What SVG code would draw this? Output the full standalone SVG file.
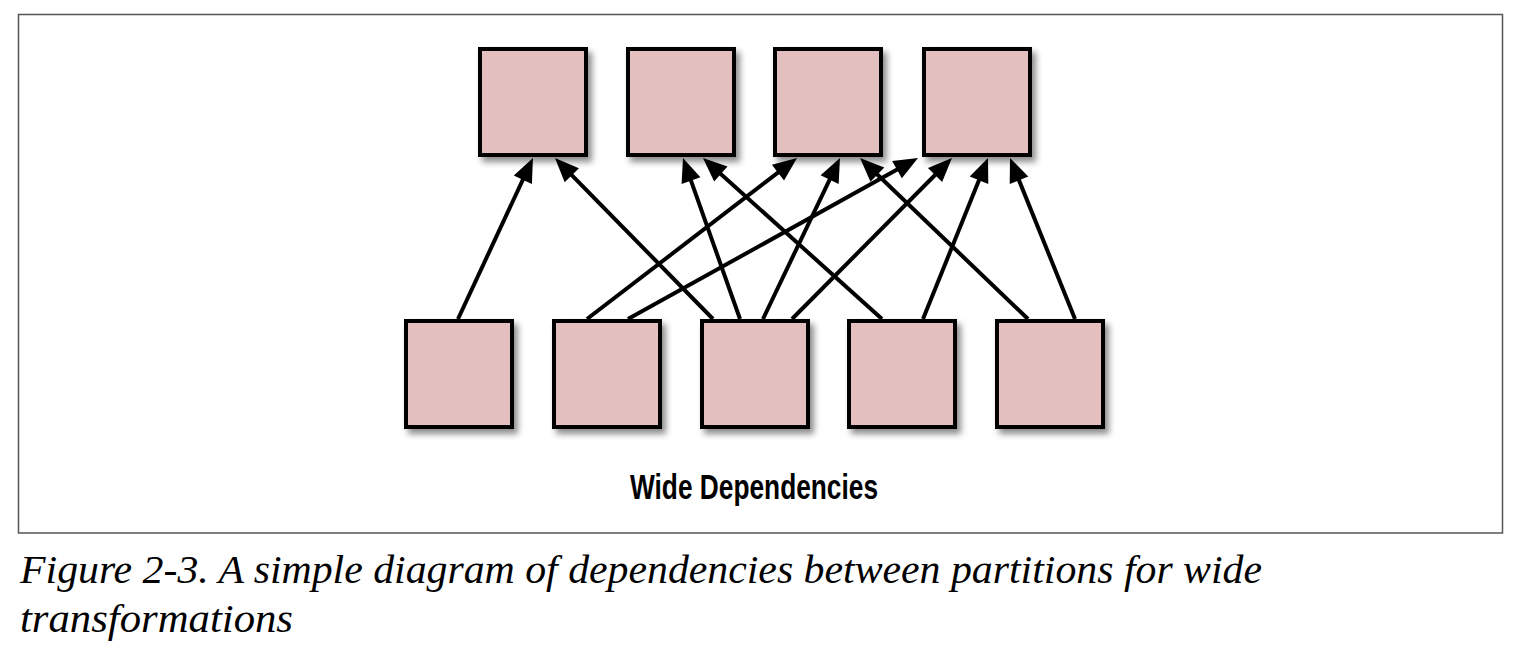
<svg xmlns="http://www.w3.org/2000/svg" width="1530" height="670" viewBox="0 0 1530 670">
  <style>
    .part { fill: #e4bfc0; stroke: #000; stroke-width: 4; filter: url(#shadow); }
    .conn { stroke: #000; stroke-width: 4; fill: none; marker-end: url(#arrow); }
    .title { font-family: "Liberation Sans", Arial, sans-serif; font-weight: bold; font-size: 35px; fill: #000; }
    .caption { font-family: "Liberation Serif", "Times New Roman", serif; font-style: italic; font-size: 40px; fill: #000; }
  </style>
  <defs>
    <filter id="shadow" x="-20%" y="-20%" width="150%" height="150%">
      <feDropShadow dx="4" dy="5" stdDeviation="3" flood-color="#000" flood-opacity="0.45"/>
    </filter>
    <marker id="arrow" markerUnits="userSpaceOnUse" markerWidth="24" markerHeight="20" refX="12" refY="10" orient="auto" overflow="visible">
      <path d="M0,0 L24,10 L0,20 z" fill="#000"/>
    </marker>
  </defs>
  <rect width="1530" height="670" fill="#fff"/>
  <rect id="frame" x="18.5" y="14.5" width="1484" height="518.5" fill="none" stroke="#555" stroke-width="1.5"/>

  <g id="connectors">
    <line class="conn" x1="458" y1="319" x2="527.9" y2="168.9"/>
    <line class="conn" x1="713" y1="319" x2="563.4" y2="166.6"/>
    <line class="conn" x1="740" y1="319" x2="687.0" y2="169.3"/>
    <line class="conn" x1="882" y1="319" x2="711.9" y2="166.0"/>
    <line class="conn" x1="587" y1="319" x2="787.5" y2="165.3"/>
    <line class="conn" x1="763" y1="319" x2="834.8" y2="168.8"/>
    <line class="conn" x1="1028" y1="319" x2="868.7" y2="166.3"/>
    <line class="conn" x1="628" y1="319" x2="907.5" y2="163.8"/>
    <line class="conn" x1="792" y1="319" x2="943.5" y2="166.5"/>
    <line class="conn" x1="923" y1="319" x2="983.5" y2="169.1"/>
    <line class="conn" x1="1075" y1="319" x2="1014.5" y2="169.1"/>
  </g>

  <g id="top-1"><rect class="part" x="480" y="49" width="106" height="106"/></g>
  <g id="top-2"><rect class="part" x="628" y="49" width="106" height="106"/></g>
  <g id="top-3"><rect class="part" x="775" y="49" width="106" height="106"/></g>
  <g id="top-4"><rect class="part" x="924" y="49" width="106" height="106"/></g>

  <g id="bottom-1"><rect class="part" x="406" y="321" width="106" height="106"/></g>
  <g id="bottom-2"><rect class="part" x="554" y="321" width="106" height="106"/></g>
  <g id="bottom-3"><rect class="part" x="702" y="321" width="106" height="106"/></g>
  <g id="bottom-4"><rect class="part" x="849" y="321" width="106" height="106"/></g>
  <g id="bottom-5"><rect class="part" x="997" y="321" width="106" height="106"/></g>

  <text id="title" class="title" x="630" y="499" textLength="248" lengthAdjust="spacingAndGlyphs">Wide Dependencies</text>

  <text class="caption" x="20" y="583" textLength="1242" lengthAdjust="spacingAndGlyphs">Figure 2-3. A simple diagram of dependencies between partitions for wide</text>
  <text class="caption" x="20" y="632" textLength="273" lengthAdjust="spacingAndGlyphs">transformations</text>
</svg>
